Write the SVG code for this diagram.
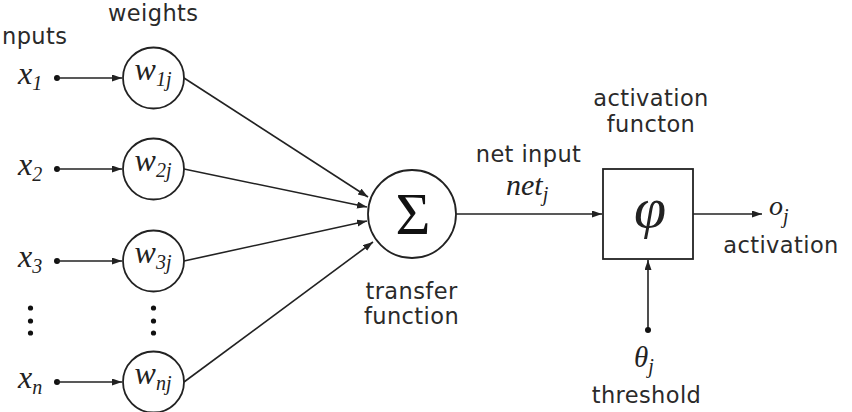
<svg xmlns="http://www.w3.org/2000/svg" width="852" height="412" viewBox="0 0 852 412">
<defs>
<marker id="arr" markerUnits="userSpaceOnUse" markerWidth="11" markerHeight="8" refX="10" refY="3.5" orient="auto">
<path d="M0,0 L10,3.5 L0,7 Z" fill="#222"/>
</marker>
</defs>
<style>
.ln{stroke:#222;stroke-width:1.6;fill:none}
.ar{stroke:#222;stroke-width:1.6;fill:none;marker-end:url(#arr)}
.nd{stroke:#222;stroke-width:1.8;fill:#fff}
.dot{fill:#111}
.lab{font-family:"DejaVu Sans",sans-serif;font-size:22.5px;letter-spacing:0.4px;fill:#2a2a2a}
.m{font-family:"Liberation Serif",serif;font-style:italic;fill:#222}
.sub{font-size:20px}
</style>
<rect width="852" height="412" fill="#fff"/>

<g id="labels">
<text class="lab" x="2" y="44">nputs</text>
<text class="lab" x="108" y="21">weights</text>
<text class="lab" x="651" y="106" text-anchor="middle">activation</text>
<text class="lab" x="651" y="132" text-anchor="middle">functon</text>
<text class="lab" x="528.5" y="161.5" text-anchor="middle">net input</text>
<text class="m" x="506" y="195" font-size="30">net<tspan class="sub" dy="6">j</tspan></text>
<text class="lab" x="411.5" y="299" text-anchor="middle">transfer</text>
<text class="lab" x="411.5" y="324" text-anchor="middle">function</text>
<text class="lab" x="781" y="253" text-anchor="middle">activation</text>
<text class="lab" x="646.5" y="403" text-anchor="middle">threshold</text>
</g>

<g id="inputs">
<text class="m" x="18" y="84" font-size="32">x<tspan class="sub" dy="6">1</tspan></text>
<text class="m" x="18" y="175" font-size="32">x<tspan class="sub" dy="6">2</tspan></text>
<text class="m" x="18" y="267" font-size="32">x<tspan class="sub" dy="6">3</tspan></text>
<text class="m" x="18" y="388" font-size="32">x<tspan class="sub" dy="6">n</tspan></text>
<circle class="dot" cx="57" cy="78" r="3"/>
<circle class="dot" cx="57" cy="169" r="3"/>
<circle class="dot" cx="57" cy="261" r="3"/>
<circle class="dot" cx="57" cy="382" r="3"/>
<circle class="dot" cx="30.5" cy="308" r="2.6"/>
<circle class="dot" cx="30.5" cy="321" r="2.6"/>
<circle class="dot" cx="30.5" cy="333" r="2.6"/>
<circle class="dot" cx="153.5" cy="308" r="2.6"/>
<circle class="dot" cx="153.5" cy="321" r="2.6"/>
<circle class="dot" cx="153.5" cy="333" r="2.6"/>
</g>

<g id="connectors">
<line class="ar" x1="57" y1="78" x2="122" y2="78"/>
<line class="ar" x1="57" y1="169" x2="122" y2="169"/>
<line class="ar" x1="57" y1="261" x2="122" y2="261"/>
<line class="ar" x1="57" y1="382" x2="122" y2="382"/>
<line class="ar" x1="184" y1="78" x2="368" y2="197"/>
<line class="ar" x1="184" y1="169" x2="367" y2="207"/>
<line class="ar" x1="184" y1="261" x2="367" y2="221"/>
<line class="ar" x1="184" y1="382" x2="373" y2="242"/>
<line class="ar" x1="456" y1="214" x2="602" y2="214"/>
<line class="ar" x1="693" y1="214" x2="762" y2="214"/>
<line class="ar" x1="648" y1="330" x2="648" y2="260"/>
<circle class="dot" cx="648" cy="330" r="3"/>
</g>

<g id="w1">
<circle class="nd" cx="153.5" cy="78" r="30.5"/>
<text class="m" x="153" y="80" font-size="32" text-anchor="middle">w<tspan class="sub" dy="6">1j</tspan></text>
</g>
<g id="w2">
<circle class="nd" cx="153.5" cy="169" r="30.5"/>
<text class="m" x="153" y="171" font-size="32" text-anchor="middle">w<tspan class="sub" dy="6">2j</tspan></text>
</g>
<g id="w3">
<circle class="nd" cx="153.5" cy="261" r="30.5"/>
<text class="m" x="153" y="263" font-size="32" text-anchor="middle">w<tspan class="sub" dy="6">3j</tspan></text>
</g>
<g id="wn">
<circle class="nd" cx="153.5" cy="382" r="30.5"/>
<text class="m" x="153" y="384" font-size="32" text-anchor="middle">w<tspan class="sub" dy="6">nj</tspan></text>
</g>

<g id="sum">
<circle class="nd" cx="412" cy="214" r="44"/>
<text x="413" y="234" font-family="Liberation Serif, serif" font-size="60" text-anchor="middle" fill="#111">Σ</text>
</g>

<g id="activation">
<rect class="nd" x="603" y="169" width="90" height="90"/>
<text class="m" x="650" y="227" font-size="58" text-anchor="middle">φ</text>
</g>

<g id="output">
<text class="m" x="769" y="215" font-size="28">o<tspan class="sub" dy="8">j</tspan></text>
</g>

<g id="threshold">
<text class="m" x="634" y="367" font-size="29">θ<tspan class="sub" dy="6">j</tspan></text>
</g>
</svg>
